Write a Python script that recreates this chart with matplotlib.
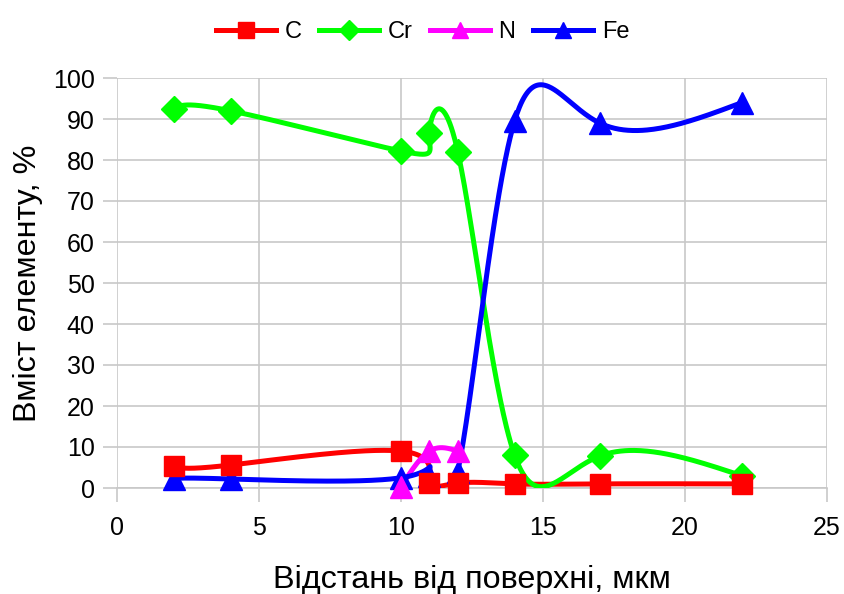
import numpy as np
import matplotlib.pyplot as plt

plt.rcParams['font.family'] = ['Liberation Sans', 'DejaVu Sans']

# data
x_c = [2, 4, 10, 11, 12, 14, 17, 22]
c = [5.4, 5.6, 9.0, 1.2, 1.2, 1.0, 1.0, 1.0]

x_cr = [2, 4, 10, 11, 12, 14, 17, 22]
cr = [92.4, 92.0, 82.2, 86.6, 82.0, 8.0, 7.8, 3.0]

x_n = [10, 11, 12]
n = [0.3, 9.0, 9.0]

x_fe = [2, 4, 10, 11, 12, 14, 17, 22]
fe = [2.3, 2.2, 2.5, 3.0, 4.0, 89.5, 89.0, 94.0]


def natural(t, v, tt):
    # natural cubic spline through (t, v), evaluated at tt
    k = len(t)
    h = np.diff(t)
    A = np.zeros((k, k))
    r = np.zeros(k)
    A[0, 0] = 1
    A[-1, -1] = 1
    for i in range(1, k - 1):
        A[i, i - 1] = h[i - 1]
        A[i, i] = 2 * (h[i - 1] + h[i])
        A[i, i + 1] = h[i]
        r[i] = 3 * ((v[i + 1] - v[i]) / h[i] - (v[i] - v[i - 1]) / h[i - 1])
    cc = np.linalg.solve(A, r)
    out = np.empty_like(tt)
    for j, s in enumerate(tt):
        i = min(max(np.searchsorted(t, s, side='right') - 1, 0), k - 2)
        d = s - t[i]
        b = (v[i + 1] - v[i]) / h[i] - h[i] * (cc[i + 1] + 2 * cc[i]) / 3
        dd = (cc[i + 1] - cc[i]) / (3 * h[i])
        out[j] = v[i] + b * d + cc[i] * d ** 2 + dd * d ** 3
    return out


def smooth(x, y, num=600):
    # parametric spline with one parameter step per point
    x = np.asarray(x, float)
    y = np.asarray(y, float)
    t = np.arange(len(x), dtype=float)
    tt = np.linspace(0, t[-1], num)
    return natural(t, x, tt), natural(t, y, tt)


fig = plt.figure(figsize=(8.45, 5.94), dpi=100)
ax = fig.add_axes([117 / 845, 1 - 488 / 594, 710 / 845, 410 / 594])

series = [
    (x_c, c, 'C', '#ff0000', 's', 15, 8),
    (x_cr, cr, 'Cr', '#00ff00', 'D', 13, 7),
    (x_n, n, 'N', '#ff00ff', '^', 16, 6),
    (x_fe, fe, 'Fe', '#0000ff', '^', 16, 5),
]
for xx, yy, name, col, m, ms, z in series:
    xs, ys = smooth(xx, yy)
    ax.plot(xs, ys, color=col, lw=3.6, zorder=3)
    ax.plot(xx, yy, ls='none', marker=m, ms=ms, color=col, zorder=z, clip_on=False)
    ax.plot([], [], color=col, lw=3.6, marker=m, ms=ms * 0.75, label=name)

ax.set_xlim(0, 25)
ax.set_ylim(0, 100)
ax.set_xticks(range(0, 26, 5))
ax.set_yticks(range(0, 101, 10))
ax.grid(True, color='#c8c8c8', lw=1.2)
for s in ['top', 'right', 'left']:
    ax.spines[s].set_visible(False)
ax.spines['bottom'].set_color('#c8c8c8')
ax.spines['bottom'].set_linewidth(1.2)
ax.tick_params(axis='both', colors='#c8c8c8', labelcolor='black', labelsize=18, length=10, width=1.2)
ax.tick_params(axis='x', pad=10)
ax.tick_params(axis='y', pad=6)
ax.set_axisbelow(True)

ax.set_xlabel('Відстань від поверхні, мкм', fontsize=23.3, labelpad=18)
ax.set_ylabel('Вміст елементу, %', fontsize=23.3, labelpad=7)

fig.legend(loc='upper center', bbox_to_anchor=(0.5, 1.0), ncol=4, frameon=False,
           fontsize=17, handlelength=2.55, columnspacing=0.75, handletextpad=0.35)

fig.savefig('out.png', dpi=100)
